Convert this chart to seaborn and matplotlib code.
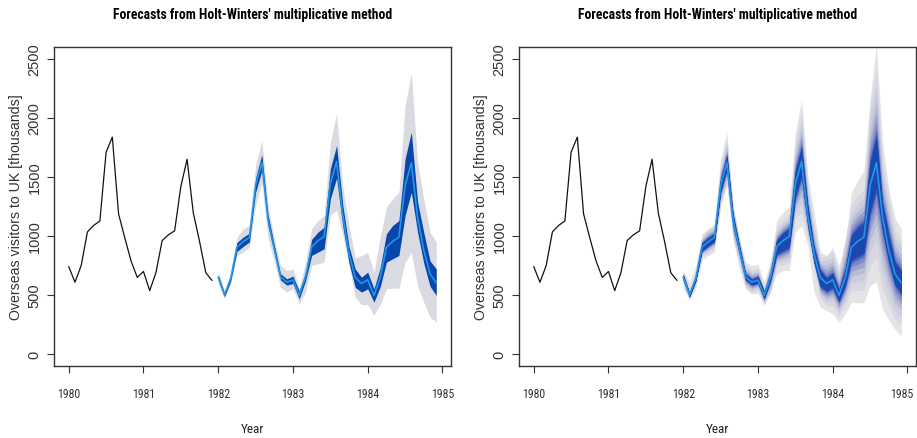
import numpy as np
import pandas as pd
import matplotlib
matplotlib.use("Agg")
import matplotlib.pyplot as plt
from matplotlib import font_manager
from matplotlib.font_manager import FontProperties
from matplotlib.colors import to_rgb
from matplotlib.transforms import ScaledTranslation
import seaborn as sns
from statistics import NormalDist

# ---- data -------------------------------------------------------------
start_year = 1980
horizon = 36

visitors = [742, 609, 750, 1035, 1090, 1127, 1710, 1837, 1188, 985, 790, 650,
            700, 538, 690, 962, 1010, 1044, 1420, 1650, 1195, 955, 690, 624]

fc_mean = [652, 502, 640, 905, 952, 988, 1428, 1622, 1133, 890, 655, 610,
           628, 497, 652, 910, 960, 995, 1442, 1631, 1170, 850, 650, 598,
           630, 497, 648, 905, 955, 990, 1428, 1620, 1160, 880, 680, 604]

lo80 = [632, 486, 618, 870, 912, 950, 1370, 1555, 1085, 855, 628, 585,
        598, 468, 618, 836, 864, 892, 1315, 1490, 1080, 770, 565, 525,
        553, 440, 570, 779, 807, 835, 1174, 1370, 1033, 770, 575, 497]
hi80 = [672, 518, 662, 945, 990, 1025, 1490, 1690, 1180, 925, 682, 638,
        660, 535, 690, 972, 1033, 1075, 1569, 1766, 1260, 910, 720, 652,
        694, 553, 730, 1019, 1089, 1131, 1653, 1880, 1290, 1030, 790, 722]

lo95 = [600, 470, 600, 835, 864, 905, 1259, 1450, 977, 779, 567, 525,
        553, 426, 525, 751, 765, 779, 1174, 1220, 1000, 760, 480, 420,
        420, 330, 420, 553, 558, 558, 779, 860, 580, 440, 313, 271]
hi95 = [700, 540, 690, 990, 1060, 1090, 1597, 1809, 1259, 977, 751, 708,
        722, 555, 779, 1061, 1131, 1173, 1794, 2034, 1420, 1089, 812, 835,
        863, 694, 990, 1244, 1315, 1371, 2105, 2381, 1625, 1315, 1032, 948]

lo99 = [553, 454, 553, 793, 835, 863, 1259, 1428, 977, 722, 553, 511,
        511, 412, 525, 680, 708, 708, 1033, 1089, 920, 525, 398, 370,
        341, 271, 341, 440, 435, 435, 581, 610, 380, 290, 210, 158]
hi99 = [708, 610, 750, 1019, 1061, 1103, 1654, 1879, 1259, 977, 779, 751,
        765, 610, 779, 1131, 1202, 1244, 1879, 2161, 1512, 1202, 863, 835,
        906, 750, 920, 1371, 1470, 1555, 2161, 2620, 1800, 1400, 1150, 1061]

fan_levels = list(range(51, 100, 3))

title = "Forecasts from Holt-Winters' multiplicative method"
xlabel = "Year"
ylabel = "Overseas visitors to UK [thousands]"
year_ticks = [1980, 1981, 1982, 1983, 1984, 1985]
value_ticks = [0, 500, 1000, 1500, 2000, 2500]

hist = pd.DataFrame({
    "time": start_year + np.arange(len(visitors)) / 12,
    "visitors": visitors,
})
fc = pd.DataFrame({
    "time": start_year + (len(visitors) + np.arange(horizon)) / 12,
    "mean": fc_mean,
    "lo80": lo80, "hi80": hi80,
    "lo95": lo95, "hi95": hi95,
    "lo99": lo99, "hi99": hi99,
})

# ---- fonts ------------------------------------------------------------
sns.set_style("ticks")
plt.rcParams["font.family"] = ["Liberation Sans", "DejaVu Sans"]
plt.rcParams["axes.linewidth"] = 1.0


def is_narrow(f):
    st = str(f.stretch).lower()
    return ("narrow" in f.name.lower() or "condensed" in f.name.lower()
            or "condensed" in st or "narrow" in f.fname.lower()
            or "condensed" in f.fname.lower())


def pick_narrow(bold):
    prefs = ["liberation sans narrow", "liberationsansnarrow", "roboto condensed",
             "robotocondensed", "dejavu sans condensed", "dejavusanscondensed",
             "open sans condensed", "opensans_condensed", "opensanscondensed"]
    found = [f for f in font_manager.fontManager.ttflist if is_narrow(f)]

    def weight_ok(f):
        w = f.weight if isinstance(f.weight, int) else {"bold": 700, "normal": 400,
                                                          "regular": 400}.get(str(f.weight), 400)
        italic = f.style != "normal" or "italic" in f.fname.lower() or "oblique" in f.fname.lower()
        return (not italic) and ((w >= 600) if bold else (350 <= w < 600))

    for p in prefs:
        for f in found:
            key = (f.name + " " + f.fname).lower().replace("-", "")
            if p.replace(" ", "") in key.replace(" ", "") and weight_ok(f):
                return FontProperties(fname=f.fname), True
    for f in found:
        if weight_ok(f):
            return FontProperties(fname=f.fname), True
    return FontProperties(family="Liberation Sans",
                          weight="bold" if bold else "normal"), False


narrow_reg, has_narrow = pick_narrow(False)
narrow_bold, has_narrow_bold = pick_narrow(True)

title_size = 9.8 if has_narrow_bold else 9.0
tick_size = 8.6 if has_narrow else 7.8
xlab_size = 9.5 if has_narrow else 8.5

COL_80 = "#0746ab"
COL_95 = "#dadae2"
COL_MEAN = "#2297E6"
# fan colours from the innermost to the outermost level
FAN_STOPS = [(0.00, "#1a47b0"), (0.45, "#2049b2"), (0.60, "#4a62bb"),
             (0.72, "#8d97c9"), (0.84, "#c3c6da"), (1.00, "#e4e4e7")]

fig = plt.figure(figsize=(9.17, 4.39), dpi=100)
ax_left = fig.add_axes([54 / 917, 1 - 367 / 439, 397 / 917, 319 / 439])
ax_right = fig.add_axes([519 / 917, 1 - 367 / 439, 397 / 917, 319 / 439])


def fan_colour(frac):
    xs = [s[0] for s in FAN_STOPS]
    cols = np.array([to_rgb(s[1]) for s in FAN_STOPS])
    return tuple(np.interp(frac, xs, cols[:, i]) for i in range(3))


def style_axes(ax):
    ax.set_xlim(1979.803, 1985.114)
    ax.set_ylim(-100, 2600)
    ax.set_xticks(year_ticks)
    ax.set_xticklabels([str(y) for y in year_ticks])
    for lab in ax.get_xticklabels():
        lab.set_fontproperties(narrow_reg)
        lab.set_fontsize(tick_size)
        lab.set_color("#222222")
    ax.set_yticks(value_ticks)
    ax.set_yticklabels([str(v) for v in value_ticks], rotation=90, va="center",
                       fontsize=10.5, color="#333333")
    ax.tick_params(axis="x", length=5, width=0.8, pad=10, colors="#333333")
    ax.tick_params(axis="y", length=5, width=0.8, pad=4, colors="#333333")
    for s in ax.spines.values():
        s.set_visible(True)
        s.set_color("#333333")
    ax.set_xlabel(xlabel, fontproperties=narrow_reg, labelpad=16, color="#222222")
    ax.xaxis.label.set_fontsize(xlab_size)
    ax.set_ylabel(ylabel, fontsize=10.2, labelpad=3, color="#333333")
    ax.set_title(title, fontproperties=narrow_bold, pad=21, color="black")
    ax.title.set_fontsize(title_size)


def draw_lines(ax):
    sns.lineplot(data=hist, x="time", y="visitors", ax=ax, color="#111111",
                 linewidth=0.9, estimator=None, zorder=5)
    sns.lineplot(data=fc, x="time", y="mean", ax=ax, color=COL_MEAN,
                 linewidth=1.2, estimator=None, zorder=6)


# left: 80% and 95% prediction intervals
ax_left.fill_between(fc["time"], fc["lo95"], fc["hi95"], color=COL_95, linewidth=0, zorder=2)
ax_left.fill_between(fc["time"], fc["lo80"], fc["hi80"], color=COL_80, linewidth=0, zorder=3)
draw_lines(ax_left)
style_axes(ax_left)

# right: fan of prediction intervals, widest first
nd = NormalDist()
z = {lv: nd.inv_cdf(0.5 + lv / 200) for lv in (80, 95, 99)}
m = fc["mean"].to_numpy(float)


def band(level):
    zl = nd.inv_cdf(0.5 + level / 200)
    if level <= 80:
        t = zl / z[80]
        lo = m + t * (fc["lo80"] - m)
        hi = m + t * (fc["hi80"] - m)
    elif level <= 95:
        t = (zl - z[80]) / (z[95] - z[80])
        lo = fc["lo80"] + t * (fc["lo95"] - fc["lo80"])
        hi = fc["hi80"] + t * (fc["hi95"] - fc["hi80"])
    else:
        t = (zl - z[95]) / (z[99] - z[95])
        lo = fc["lo95"] + t * (fc["lo99"] - fc["lo95"])
        hi = fc["hi95"] + t * (fc["hi99"] - fc["hi95"])
    return lo, hi


for level in sorted(fan_levels, reverse=True):
    frac = (level - fan_levels[0]) / (fan_levels[-1] - fan_levels[0])
    lo, hi = band(level)
    ax_right.fill_between(fc["time"], lo, hi, color=fan_colour(frac),
                          linewidth=0, zorder=2)
draw_lines(ax_right)
style_axes(ax_right)

# keep the last year label of the right panel inside the figure edge
last_label = ax_right.get_xticklabels()[-1]
last_label.set_transform(last_label.get_transform()
                         + ScaledTranslation(-4 / 72, 0, fig.dpi_scale_trans))

fig.savefig("out.png", dpi=100)
